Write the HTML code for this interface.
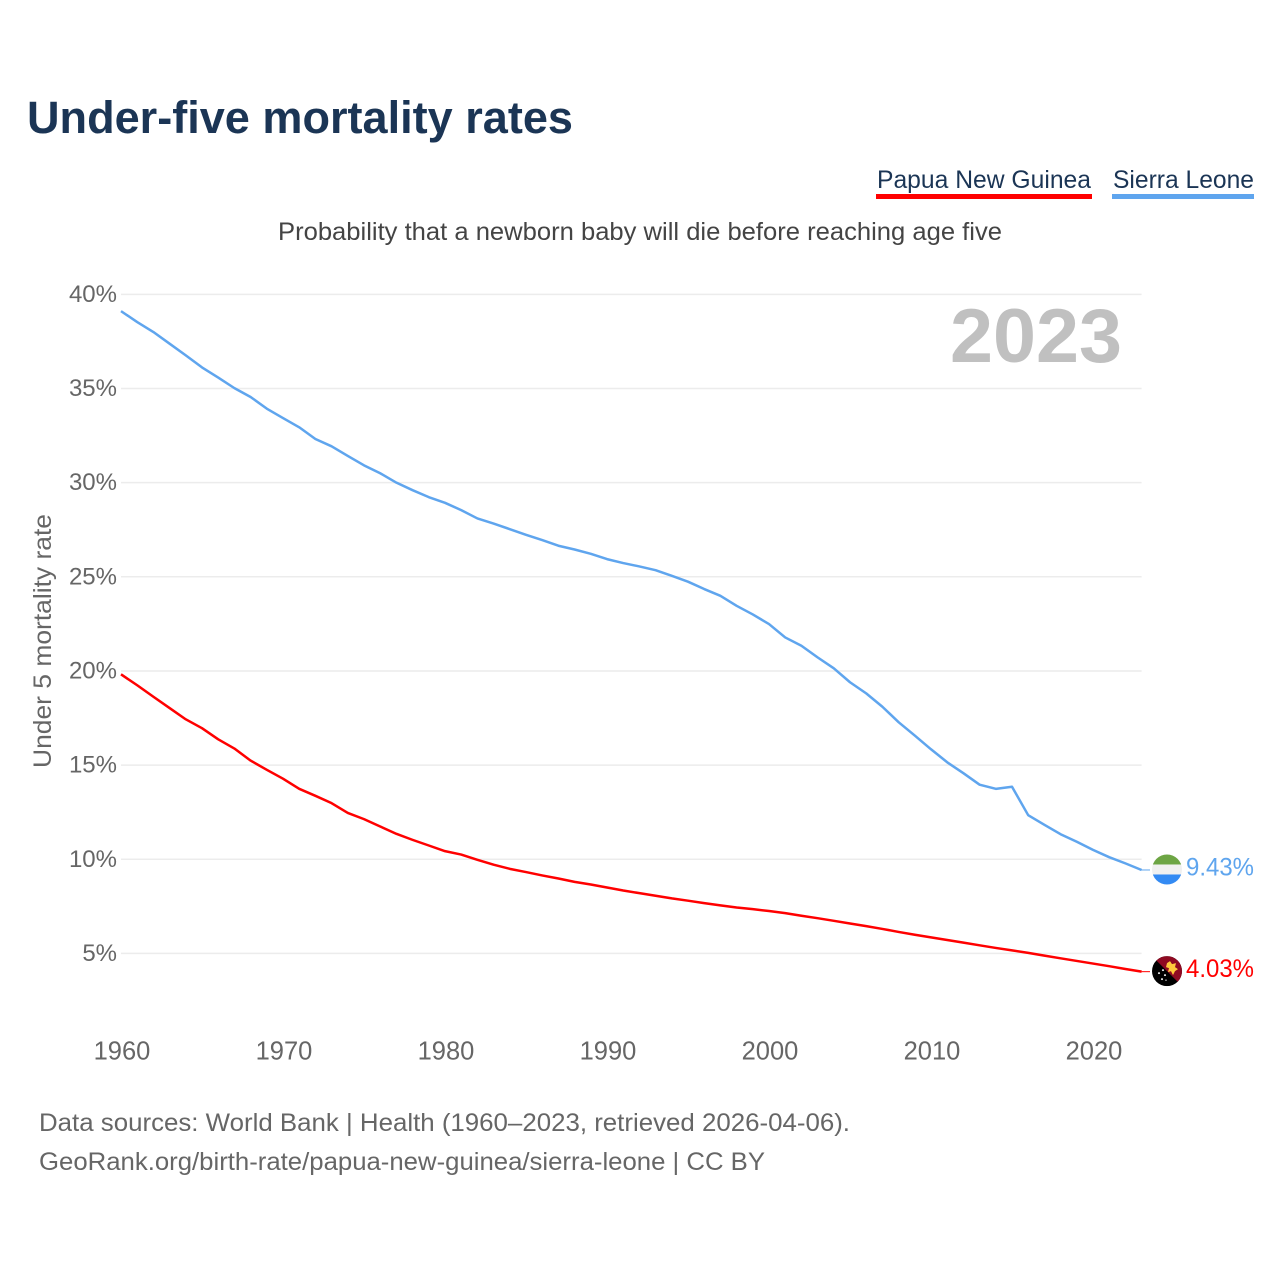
<!DOCTYPE html>
<html lang="en">
<head>
<meta charset="utf-8">
<title>Under-five mortality rates</title>
<style>
  html, body { margin: 0; padding: 0; background: #fff; }
  svg { display: block; font-family: "Liberation Sans", sans-serif; }
</style>
</head>
<body>
<svg id="chart" width="1280" height="1280" viewBox="0 0 1280 1280" xmlns="http://www.w3.org/2000/svg">
  <rect x="0" y="0" width="1280" height="1280" fill="#ffffff"/>
  <text x="27" y="133" font-size="45" font-weight="700" fill="#1b3555" textLength="546" lengthAdjust="spacingAndGlyphs">Under-five mortality rates</text>

  <g>
    <text x="877" y="188" font-size="25" fill="#1b3555" textLength="214" lengthAdjust="spacingAndGlyphs">Papua New Guinea</text>
    <rect x="876" y="194" width="216" height="5" fill="#ff0000"/>
  </g>
  <g>
    <text x="1113" y="188" font-size="25" fill="#1b3555" textLength="141" lengthAdjust="spacingAndGlyphs">Sierra Leone</text>
    <rect x="1112" y="194" width="142" height="5" fill="#5fa5ee"/>
  </g>

  <text x="278" y="240" font-size="25" fill="#444444" textLength="724" lengthAdjust="spacingAndGlyphs">Probability that a newborn baby will die before reaching age five</text>

  <g id="grid"></g>
  <g id="yticks"></g>
  <g id="xticks"></g>

  <text x="950" y="362" font-size="76" font-weight="700" fill="#c0c0c0" textLength="172" lengthAdjust="spacingAndGlyphs">2023</text>

  <text transform="translate(51,768) rotate(-90)" x="0" y="0" font-size="25" fill="#666666" textLength="254" lengthAdjust="spacingAndGlyphs">Under 5 mortality rate</text>

  <g id="series"></g>

  <g id="flag-sl">
    <clipPath id="clip-sl"><circle cx="0" cy="0" r="15"/></clipPath>
    <g clip-path="url(#clip-sl)">
      <rect x="-15" y="-15" width="30" height="30" fill="#f0f0f0"/>
      <rect x="-15" y="-15" width="30" height="10" fill="#6da544"/>
      <rect x="-15" y="5" width="30" height="10" fill="#338af3"/>
    </g>
  </g>
  <g id="flag-png">
    <clipPath id="clip-png"><circle cx="0" cy="0" r="15"/></clipPath>
    <g clip-path="url(#clip-png)">
      <rect x="-15" y="-15" width="30" height="30" fill="#000000"/>
      <polygon points="-15,-15 15,-15 15,15" fill="#8f0a22"/>
      <polygon points="0,-8 3,-10 5,-7 9,-8 8,-4 11,-2 8,0 6,4 4,0 1,1 2,-3 -1,-4" fill="#ffc93c"/>
      <circle cx="-8" cy="2" r="1" fill="#f0f0f0"/>
      <circle cx="-4" cy="-1" r="1" fill="#f0f0f0"/>
      <circle cx="-2" cy="4" r="1" fill="#f0f0f0"/>
      <circle cx="-5" cy="8" r="1" fill="#f0f0f0"/>
      <circle cx="-1" cy="9" r="0.7" fill="#f0f0f0"/>
    </g>
  </g>
  <text id="value-sl" x="1186" font-size="25" fill="#5fa5ee" textLength="68" lengthAdjust="spacingAndGlyphs"></text>
  <text id="value-png" x="1186" font-size="25" fill="#ff0000" textLength="68" lengthAdjust="spacingAndGlyphs"></text>

  <text x="39" y="1131" font-size="25" fill="#666666" textLength="811" lengthAdjust="spacingAndGlyphs">Data sources: World Bank | Health (1960–2023, retrieved 2026-04-06).</text>
  <text x="39" y="1170" font-size="25" fill="#666666" textLength="726" lengthAdjust="spacingAndGlyphs">GeoRank.org/birth-rate/papua-new-guinea/sierra-leone | CC BY</text>
</svg>
<script>
const startYear = 1960;
const yTickValues = [5, 10, 15, 20, 25, 30, 35, 40];
const xTickValues = [1960, 1970, 1980, 1990, 2000, 2010, 2020];
const sierraLeone = [
  39.11, 38.53, 38.00, 37.38, 36.76, 36.12, 35.58, 35.02, 34.55, 33.93,
  33.43, 32.94, 32.32, 31.93, 31.42, 30.92, 30.50, 30.00, 29.60, 29.23,
  28.93, 28.54, 28.10, 27.83, 27.53, 27.23, 26.95, 26.65, 26.45, 26.22,
  25.94, 25.73, 25.55, 25.35, 25.05, 24.74, 24.35, 23.99, 23.46, 23.00,
  22.49, 21.78, 21.34, 20.72, 20.14, 19.40, 18.81, 18.10, 17.28, 16.57,
  15.84, 15.15, 14.57, 13.96, 13.74, 13.85, 12.34, 11.83, 11.33, 10.93,
  10.50, 10.11, 9.78, 9.43
];
const papuaNewGuinea = [
  19.82, 19.24, 18.63, 18.03, 17.43, 16.96, 16.37, 15.88, 15.24, 14.75,
  14.28, 13.74, 13.37, 12.98, 12.46, 12.13, 11.74, 11.35, 11.03, 10.73,
  10.43, 10.25, 9.97, 9.71, 9.49, 9.32, 9.14, 8.98, 8.80, 8.66,
  8.50, 8.34, 8.20, 8.06, 7.92, 7.80, 7.67, 7.55, 7.44, 7.35,
  7.25, 7.14, 7.00, 6.87, 6.73, 6.59, 6.45, 6.30, 6.14, 5.99,
  5.85, 5.71, 5.57, 5.43, 5.29, 5.16, 5.03, 4.88, 4.74, 4.60,
  4.46, 4.32, 4.17, 4.03
];

const NS = 'http://www.w3.org/2000/svg';
function xScale(year) { return 121 + (year - 1960) * 16.2; }
function yScale(value) { return 953.4 - (value - 5) * 18.83; }
function make(tag, attrs, parent) {
  const el = document.createElementNS(NS, tag);
  for (const k in attrs) el.setAttribute(k, attrs[k]);
  parent.appendChild(el);
  return el;
}

const grid = document.getElementById('grid');
const yticks = document.getElementById('yticks');
const xticks = document.getElementById('xticks');
const series = document.getElementById('series');
const gridEnd = xScale(startYear + sierraLeone.length - 1);

yTickValues.forEach(function (v) {
  const line = make('line', { x1: 121, x2: gridEnd, y1: yScale(v), y2: yScale(v), stroke: '#ececec', 'stroke-width': 1.5 }, grid);
  
  
  const label = make('text', { x: 117, y: yScale(v) + 7.5, 'text-anchor': 'end', 'font-size': 24, fill: '#666666' }, yticks);
  
  
  label.textContent = v + '%';
});

xTickValues.forEach(function (year) {
  const label = make('text', { x: xScale(year) + 1, y: 1059.5, 'text-anchor': 'middle', 'font-size': 25.5, fill: '#666666' }, xticks);
  
  
  label.textContent = year;
});

function drawSeries(values, color, name, flagId, labelId) {
  const pts = values.map(function (v, i) { return xScale(startYear + i).toFixed(2) + ',' + yScale(v).toFixed(2); }).join(' ');
  const path = make('polyline', { points: pts, fill: 'none', stroke: color, 'stroke-width': 2.5, 'stroke-linejoin': 'round' }, series);
  
  
  const last = values[values.length - 1];
  const ly = yScale(last);
  const conn = make('line', { x1: gridEnd, x2: 1150, y1: ly, y2: ly, stroke: color, 'stroke-width': 1 }, series);
  
  
  document.getElementById(flagId).setAttribute('transform', 'translate(1167,' + (ly - 0.5) + ')');
  const label = document.getElementById(labelId);
  label.setAttribute('y', ly + 5.5);
  label.textContent = last.toFixed(2) + '%';
}

drawSeries(sierraLeone, '#5fa5ee', 'sierra-leone', 'flag-sl', 'value-sl');
drawSeries(papuaNewGuinea, '#ff0000', 'papua-new-guinea', 'flag-png', 'value-png');
</script>
</body>
</html>
